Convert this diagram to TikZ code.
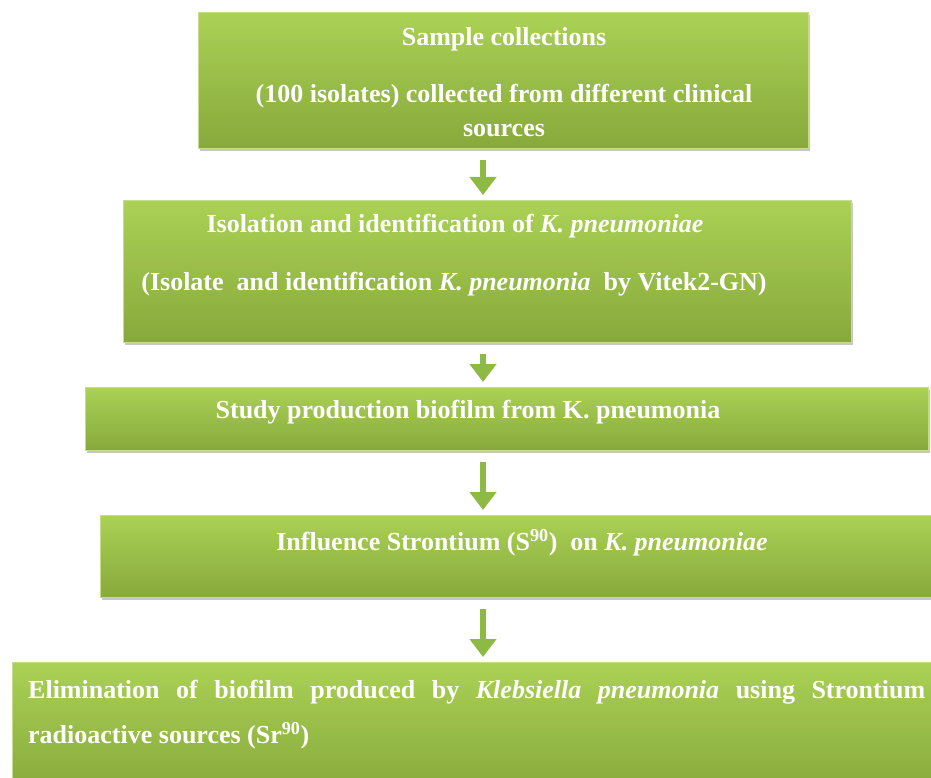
\documentclass[tikz,border=0pt]{standalone}
\usepackage{fontspec}
\setmainfont{Liberation Serif}
\usetikzlibrary{arrows.meta,shadows}
\definecolor{boxtop}{HTML}{ABD155}
\definecolor{boxbot}{HTML}{87A93C}
\definecolor{arrowgreen}{HTML}{8DBA44}
\tikzset{
  stepbox/.style={rectangle, anchor=north west, inner sep=0pt,
    top color=boxtop, bottom color=boxbot, draw=boxtop!70!white, line width=0.6pt,
    drop shadow={shadow xshift=1.5pt, shadow yshift=-3pt, opacity=0.45}},
  steptext/.style={text=white, font=\bfseries\fontsize{26}{30}\selectfont, inner sep=0pt},
  flowarrow/.style={arrowgreen, line width=6pt, -{Triangle[width=26pt,length=18pt]}}
}
\begin{document}
\begin{tikzpicture}[x=1pt,y=-1pt]
  \useasboundingbox (0,0) rectangle (931,778);
  % Kaesten
  \node[stepbox, minimum width=610pt, minimum height=136pt] (b1) at (198,12) {};
  \node[stepbox, minimum width=728pt, minimum height=142pt] (b2) at (123,200) {};
  \node[stepbox, minimum width=843pt, minimum height=63pt] (b3) at (85,387) {};
  \node[stepbox, minimum width=845pt, minimum height=82pt] (b4) at (100,515) {};
  \node[stepbox, minimum width=935pt, minimum height=130pt] (b5) at (12,662) {};
  % Texte
  \node[steptext] (t1a) at (504,39) {Sample collections};
  \node[steptext, align=center, font=\bfseries\fontsize{26}{34}\selectfont] (t1b) at (504,111) {(100 isolates) collected from different clinical\\ sources};
  \node[steptext] (t2a) at (455,226) {Isolation and identification of \textit{K. pneumoniae}};
  \node[steptext] (t2b) at (454,284) {(Isolate\ \ and identification \textit{K. pneumonia}\ \ by Vitek2-GN)};
  \node[steptext] (t3) at (468,412) {Study production biofilm from K. pneumonia};
  \node[steptext] (t4) at (522,543) {Influence Strontium (S\textsuperscript{90})\ \ on \textit{K. pneumoniae}};
  \node[steptext, anchor=north west, text width=897pt, align=justify,
    font=\bfseries\fontsize{26}{45}\selectfont] (t5) at (28,680)
    {Elimination of biofilm produced by \textit{Klebsiella pneumonia} using Strontium\linebreak
     radioactive sources (Sr\textsuperscript{90})};
  % Pfeile
  \foreach \a/\b in {b1/b2,b2/b3,b3/b4,b4/b5}
    \draw[flowarrow, shorten <=11pt, shorten >=5pt] (\a.south -| 483,0) -- (\b.north -| 483,0);
\end{tikzpicture}
\end{document}
